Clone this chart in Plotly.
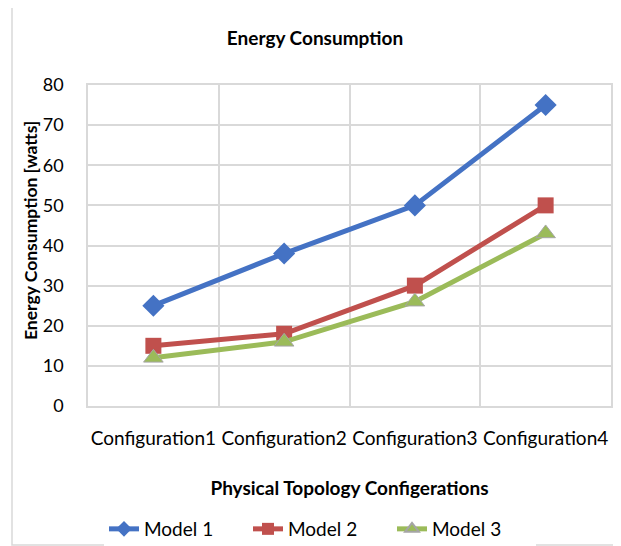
import plotly.graph_objects as go

categories = ["Configuration1", "Configuration2", "Configuration3", "Configuration4"]
model1 = [25, 38, 50, 75]
model2 = [15, 18, 30, 50]
model3 = [12, 16, 26, 43]
y_ticks = [0, 10, 20, 30, 40, 50, 60, 70, 80]

FONT = "Lato, 'Open Sans', sans-serif"
GRID = "#d9d9d9"

# page body has an 8px margin; figure is sized to fit the 621x546 window
W, H = 613, 538
L, R, T, B = 80, 10, 77, 140
PW = W - L - R
PH = H - T - B


def px_x(x):
    return (x - L) / PW


def px_y(y):
    return (H - B - y) / PH


fig = go.Figure()
fig.add_trace(go.Scatter(x=categories, y=model1, name="Model 1", mode="lines+markers",
                         line=dict(color="#4472C4", width=5),
                         marker=dict(symbol="diamond", size=17, color="#4472C4")))
fig.add_trace(go.Scatter(x=categories, y=model2, name="Model 2", mode="lines+markers",
                         line=dict(color="#C0504D", width=5),
                         marker=dict(symbol="square", size=16, color="#C0504D")))
fig.add_trace(go.Scatter(x=categories, y=model3, name="Model 3", mode="lines+markers",
                         line=dict(color="#9BBB59", width=5),
                         marker=dict(symbol="triangle-up", size=17, color="#9BBB59",
                                     line=dict(color="#A5A5A5", width=1))))

fig.update_layout(
    width=W, height=H,
    margin=dict(l=L, r=R, t=T, b=B),
    paper_bgcolor="white", plot_bgcolor="white",
    font=dict(family=FONT, size=19, color="#000000"),
    title=dict(text="<b>Energy Consumption</b>", x=px_x(307), xref="paper",
               xanchor="center", y=1 - 30 / H, yanchor="middle",
               font=dict(family=FONT, size=19)),
    showlegend=True,
    legend=dict(orientation="h", x=px_x(312), xanchor="center",
                yref="container", y=1 - 521 / H, yanchor="middle",
                font=dict(family=FONT, size=19), itemwidth=30,
                itemsizing="constant", entrywidth=99,
                tracegroupgap=0),
    xaxis=dict(
        type="category", showgrid=True, gridcolor=GRID, gridwidth=1.5,
        tickson="boundaries", ticks="", zeroline=False,
        showline=True, linecolor=GRID, linewidth=1.5, mirror=True,
        tickangle=0, automargin=False,
        tickfont=dict(family=FONT, size=19), ticklabelstandoff=14,
        title=dict(text="<b>Physical Topology Configerations</b>",
                   font=dict(family=FONT, size=19), standoff=34),
        range=[-0.5, 3.5],
    ),
    yaxis=dict(
        range=[0, 80], tickvals=y_ticks, showgrid=True, gridcolor=GRID, gridwidth=1.5,
        zeroline=False, ticks="", ticklabelstandoff=19,
        showline=True, linecolor=GRID, linewidth=1.5, mirror=True,
        automargin=False,
        tickfont=dict(family=FONT, size=18),
    ),
    annotations=[dict(text="<b>Energy Consumption [watts]</b>", textangle=-90,
                      xref="paper", yref="paper", x=px_x(22), y=px_y(223),
                      xanchor="center", yanchor="middle", showarrow=False,
                      font=dict(family=FONT, size=17.5))],
    shapes=[dict(type="rect", xref="paper", yref="paper",
                 x0=px_x(4), x1=px_x(610),
                 y0=px_y(537), y1=px_y(-3),
                 line=dict(color=GRID, width=1.5), fillcolor="rgba(0,0,0,0)", layer="below")],
)

fig.write_html("out.html")
